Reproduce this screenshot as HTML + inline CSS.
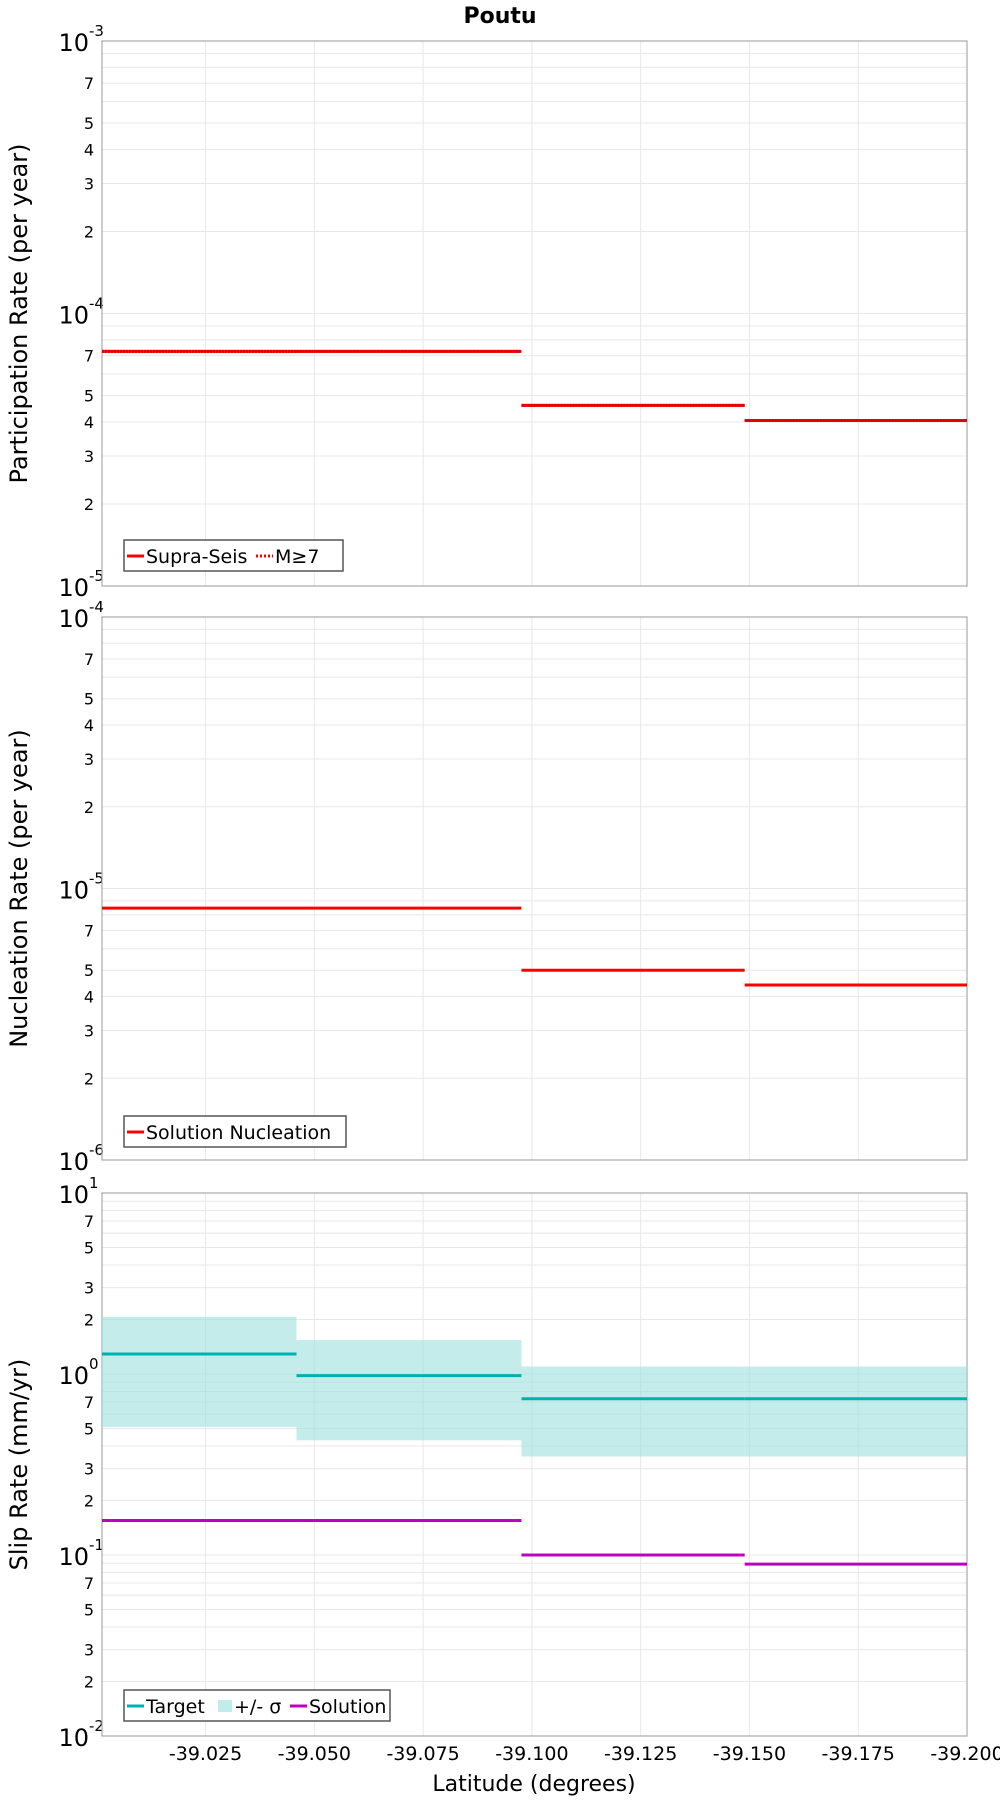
<!DOCTYPE html>
<html><head><meta charset="utf-8"><style>
body{margin:0;background:#fff;}
svg text{font-family:"DejaVu Sans","Liberation Sans",sans-serif;}
</style></head><body>
<svg id="chart" width="1000" height="1800" viewBox="0 0 1000 1800" xmlns="http://www.w3.org/2000/svg">
<text x="500" y="23" text-anchor="middle" font-size="22" font-weight="bold">Poutu</text>
<text x="534" y="1791" text-anchor="middle" font-size="22">Latitude (degrees)</text>
</svg>
<script>
// Data
const xDomain = [-39.0012, -39.2];
const binEdges = [-39.0012, -39.0459, -39.0976, -39.1489, -39.2];
const xTicks = [-39.025, -39.05, -39.075, -39.1, -39.125, -39.15, -39.175, -39.2];
const xTickLabels = ["-39.025","-39.050","-39.075","-39.100","-39.125","-39.150","-39.175","-39.200"];
const partSupra = [7.26e-5, 7.26e-5, 4.6e-5, 4.05e-5];
const partM7 = [7.26e-5, 7.26e-5, 4.6e-5, 4.05e-5];
const nucl = [8.47e-6, 8.47e-6, 5.0e-6, 4.41e-6];
const slipTarget = [1.29, 0.98, 0.73, 0.73];
const slipUpper = [2.07, 1.54, 1.10, 1.10];
const slipLower = [0.51, 0.43, 0.35, 0.35];
const slipSolution = [0.155, 0.155, 0.10, 0.089];

const NS = "http://www.w3.org/2000/svg";
const svg = document.getElementById('chart');
const L = 102, R = 967;
function mk(tag, attrs, parent){const e=document.createElementNS(NS,tag);for(const k in attrs)e.setAttribute(k,attrs[k]);(parent||svg).appendChild(e);return e;}
function xScale(v){return L + (v - xDomain[0])/(xDomain[1]-xDomain[0])*(R-L);}

function panel(name, top, bottom, minExp, maxExp, minorLabels, yTitle){
  const g = mk('g',{});
  
  
  const y = v => bottom - (Math.log10(v)-minExp)/(maxExp-minExp)*(bottom-top);
  for(let e=minExp;e<maxExp;e++){
    for(let m=1;m<=9;m++){
      const v=m*Math.pow(10,e), yy=y(v);
      if(m>1){const gl=mk('line',{x1:L,x2:R,y1:yy,y2:yy,stroke:'#e8e8e8','stroke-width':1},g);
        }
      if(m>1 && minorLabels.includes(m)){
        const t=mk('text',{x:L-8,y:yy+6,'text-anchor':'end','font-size':16},g);t.textContent=m;
        
      }
    }
  }
  for(let e=minExp;e<=maxExp;e++){
    const yy=y(Math.pow(10,e));
    if(e>minExp&&e<maxExp){const gl=mk('line',{x1:L,x2:R,y1:yy,y2:yy,stroke:'#e8e8e8','stroke-width':1},g);
      }
    const t=mk('text',{x:L-13,y:yy+10,'text-anchor':'end','font-size':24},g);t.textContent='10';
    
    const s=mk('text',{x:L-13,y:yy-5,'text-anchor':'start','font-size':15},g);s.textContent=e;
    
  }
  xTicks.forEach(v=>{const xx=xScale(v);const gl=mk('line',{x1:xx,x2:xx,y1:top,y2:bottom,stroke:'#e8e8e8','stroke-width':1},g);
    });
  const fr=mk('rect',{x:L,y:top,width:R-L,height:bottom-top,fill:'none',stroke:'#aaa','stroke-width':1.2},g);
  
  const cy=(top+bottom)/2;
  const yt=mk('text',{x:27,y:cy,'text-anchor':'middle','font-size':24,transform:`rotate(-90 27 ${cy})`},g);yt.textContent=yTitle;
  
  return {g,y};
}
function steps(p, vals, color, name, dash){
  vals.forEach((v,i)=>{
    const l=mk('line',{x1:xScale(binEdges[i]),x2:xScale(binEdges[i+1]),y1:p.y(v),y2:p.y(v),stroke:color,'stroke-width':3},p.g);
    if(dash) l.setAttribute('stroke-dasharray',dash);
    
  });
}
function legend(p, x, y, w, items){
  const lg=mk('g',{},p.g);
  
  const r=mk('rect',{x:x,y:y,width:w,height:31,fill:'#fff',stroke:'#555','stroke-width':1.5},lg);
  
  let cx=x+3;
  items.forEach(it=>{
    let sw;
    if(it.box){sw=mk('rect',{x:cx,y:y+10,width:14,height:12,fill:it.color},lg);}
    else {sw=mk('line',{x1:cx,x2:cx+17,y1:y+16,y2:y+16,stroke:it.color,'stroke-width':3},lg);if(it.dash)sw.setAttribute('stroke-dasharray',it.dash);}
    
    const t=mk('text',{x:cx+(it.box?16:19),y:y+23,'font-size':19},lg);t.textContent=it.label;
    
    cx+= (it.box?16:19) + it.w;
  });
}

const p1=panel('participation-panel',41,586,-5,-3,[2,3,4,5,7],'Participation Rate (per year)');
steps(p1,partSupra,'#ff0000','supra-seis-line');
steps(p1,partM7,'#dd0000','m7-line','2 1');
legend(p1,124,540,219,[{label:'Supra-Seis',color:'#f00',w:110},{label:'M≥7',color:'#f00',dash:'2 2',w:50}]);

const p2=panel('nucleation-panel',617,1160,-6,-4,[2,3,4,5,7],'Nucleation Rate (per year)');
steps(p2,nucl,'#ff0000','nucleation-line');
legend(p2,124,1116,222,[{label:'Solution Nucleation',color:'#f00',w:190}]);

const p3=panel('slip-rate-panel',1193,1736,-2,1,[2,3,5,7],'Slip Rate (mm/yr)');
slipUpper.forEach((u,i)=>{
  const x1=xScale(binEdges[i]),x2=xScale(binEdges[i+1]);
  const r=mk('rect',{x:x1,y:p3.y(u),width:x2-x1,height:p3.y(slipLower[i])-p3.y(u),fill:'#9fe0de','fill-opacity':0.62},p3.g);
  
});
steps(p3,slipTarget,'#00b0b0','target-line');
steps(p3,slipSolution,'#c000c0','solution-line');
legend(p3,124,1690,266,[{label:'Target',color:'#00b0b0',w:72},{label:'+/- σ',color:'#c2ecea',box:true,w:56},{label:'Solution',color:'#c000c0',w:90}]);

xTicks.forEach((v,i)=>{
  const t=mk('text',{x:xScale(v),y:1760,'text-anchor':'middle','font-size':19});
  t.textContent=xTickLabels[i];
  
  
});
</script>
</body></html>
